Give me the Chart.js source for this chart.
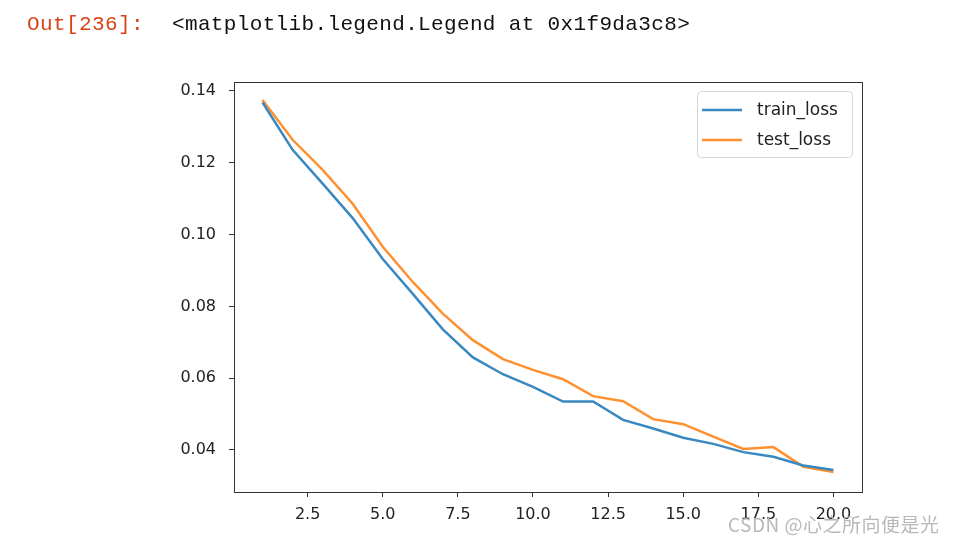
<!DOCTYPE html>
<html>
<head>
<meta charset="utf-8">
<script src="https://cdn.jsdelivr.net/npm/chart.js@4/dist/chart.umd.min.js"></script>
<style>
  html, body { margin: 0; padding: 0; background: #fff; }
  #wrap { position: relative; width: 964px; height: 542px; overflow: hidden; }
  #lossChart { position: absolute; left: 0; top: 0; }
  .out { position: absolute; left: 27px; top: 13px; font-family: "Liberation Mono", monospace; font-size: 21px; letter-spacing: 0.4px; color: #d84315; white-space: pre; }
  .repr { position: absolute; left: 172px; top: 13px; font-family: "Liberation Mono", monospace; font-size: 21px; letter-spacing: 0.35px; color: #111; white-space: pre; }
  .mark { position: absolute; left: 728px; top: 510px; font-family: "Noto Sans CJK SC", sans-serif; font-size: 19px; letter-spacing: 0.5px; color: #b8b8b8; white-space: pre; }
</style>
</head>
<body>
<div id="wrap">
  <canvas id="lossChart" width="964" height="542"></canvas>
  <div class="out">Out[236]:</div>
  <div class="repr">&lt;matplotlib.legend.Legend at 0x1f9da3c8&gt;</div>
  <div class="mark">CSDN @心之所向便是光</div>
</div>
<script>
// data
const epochs = [1, 2, 3, 4, 5, 6, 7, 8, 9, 10, 11, 12, 13, 14, 15, 16, 17, 18, 19, 20];
const trainLoss = [0.1368, 0.1236, 0.1142, 0.1046, 0.0932, 0.0835, 0.0736, 0.0658, 0.0611, 0.0576,
                   0.0535, 0.0535, 0.0484, 0.0460, 0.0434, 0.0417, 0.0394, 0.0381, 0.0357, 0.0344];
const testLoss = [0.1375, 0.1264, 0.1180, 0.1086, 0.0966, 0.0868, 0.0780, 0.0706, 0.0653, 0.0623,
                  0.0597, 0.0550, 0.0536, 0.0486, 0.0472, 0.0437, 0.0403, 0.0408, 0.0353, 0.0339];
const xTicks = [2.5, 5.0, 7.5, 10.0, 12.5, 15.0, 17.5, 20.0];
const yTicks = [0.04, 0.06, 0.08, 0.10, 0.12, 0.14];

const tickFont = { family: 'DejaVu Sans', size: 16 };
const axisColor = '#333';

// draws the top/right spines and the matplotlib style legend box
const frameAndLegend = {
    id: 'frameAndLegend',
    afterDraw(chart) {
        const { ctx, chartArea: a } = chart;
        ctx.save();
        ctx.strokeStyle = axisColor;
        ctx.lineWidth = 1;
        ctx.strokeRect(Math.round(a.left) + 0.5, Math.round(a.top) + 0.5,
                       Math.round(a.right - a.left), Math.round(a.bottom - a.top));

        const bx = a.right - 165, by = a.top + 9, bw = 155, bh = 66;
        ctx.beginPath();
        ctx.roundRect(bx + 0.5, by + 0.5, bw, bh, 4);
        ctx.fillStyle = 'rgba(255,255,255,0.8)';
        ctx.fill();
        ctx.strokeStyle = '#d6d6d6';
        ctx.stroke();

        ctx.font = '17px "DejaVu Sans"';
        ctx.textBaseline = 'middle';
        chart.data.datasets.forEach((ds, i) => {
            const y = by + 19 + i * 30;
            ctx.strokeStyle = ds.borderColor;
            ctx.lineWidth = 2.5;
            ctx.beginPath();
            ctx.moveTo(bx + 5, y);
            ctx.lineTo(bx + 45, y);
            ctx.stroke();
            ctx.fillStyle = '#222';
            ctx.fillText(ds.label, bx + 60, y + 1);
        });
        ctx.restore();
    }
};

new Chart(document.getElementById('lossChart'), {
    type: 'line',
    data: {
        datasets: [
            {
                label: 'train_loss',
                data: epochs.map((e, i) => ({ x: e, y: trainLoss[i] })),
                borderColor: '#3a88c0',
                borderWidth: 2.5,
                pointRadius: 0,
                tension: 0,
                fill: false,
            },
            {
                label: 'test_loss',
                data: epochs.map((e, i) => ({ x: e, y: testLoss[i] })),
                borderColor: '#ff9030',
                borderWidth: 2.5,
                pointRadius: 0,
                tension: 0,
                fill: false,
            }
        ]
    },
    options: {
        responsive: false,
        animation: false,
        layout: { padding: { left: 160, top: 82, right: 102, bottom: 0 } },
        scales: {
            x: {
                type: 'linear',
                min: 0.05,
                max: 20.95,
                afterBuildTicks: (scale) => { scale.ticks = xTicks.map(v => ({ value: v })); },
                afterFit: (scale) => { scale.height = 50; },
                grid: { drawOnChartArea: false, tickLength: 5, color: axisColor },
                border: { display: true, color: axisColor },
                ticks: { font: tickFont, color: '#222', padding: 8, maxRotation: 0, autoSkip: false,
                         callback: (v) => Number(v).toFixed(1) }
            },
            y: {
                type: 'linear',
                min: 0.0283,
                max: 0.1425,
                afterBuildTicks: (scale) => { scale.ticks = yTicks.map(v => ({ value: v })); },
                afterFit: (scale) => { scale.width = 74; },
                grid: { drawOnChartArea: false, tickLength: 5, color: axisColor },
                border: { display: true, color: axisColor },
                ticks: { font: tickFont, color: '#222', padding: 13, autoSkip: false,
                         callback: (v) => Number(v).toFixed(2) }
            }
        },
        plugins: {
            legend: { display: false },
            tooltip: { enabled: false }
        }
    },
    plugins: [frameAndLegend]
});
</script>
</body>
</html>
